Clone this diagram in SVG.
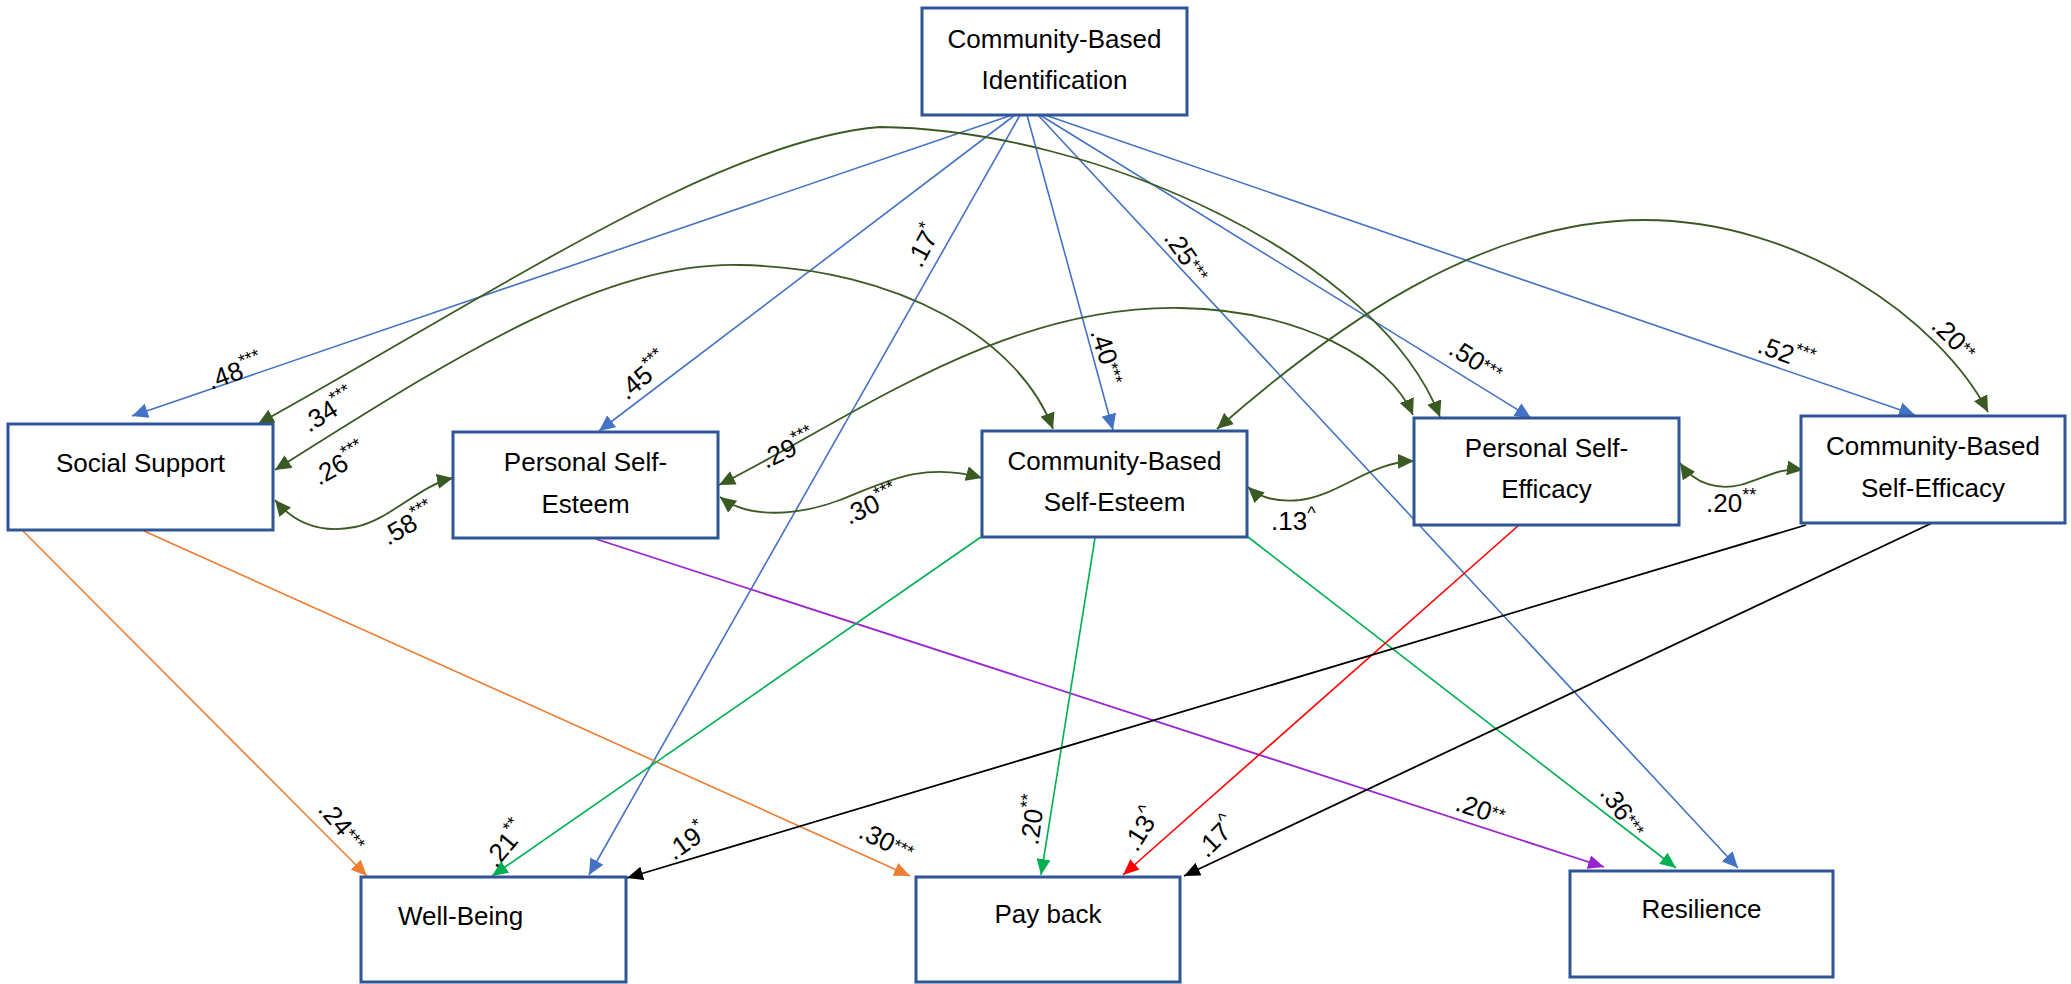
<svg xmlns="http://www.w3.org/2000/svg" width="2071" height="984" viewBox="0 0 2071 984">
  <style>
    .box { fill: #ffffff; stroke: #2F5597; stroke-width: 3; }
    .t { font-family: "Liberation Sans", Arial, sans-serif; font-size: 26px; fill: #000000; }
    .lbl { font-family: "Liberation Sans", Arial, sans-serif; font-size: 26px; fill: #000000; }
    .sup { font-size: 18px; }
    .ln { fill: none; stroke-width: 1.6; }
    .blue { stroke: #4472C4; marker-end: url(#aBlue); }
    .cov { stroke: #3A5A24; stroke-width: 1.8; fill: none; marker-start: url(#aCov); marker-end: url(#aCov); }
    .orange { stroke: #ED7D31; marker-end: url(#aOrange); }
    .purple { stroke: #9A22D2; stroke-width: 1.8; marker-end: url(#aPurple); }
    .green { stroke: #00B050; marker-end: url(#aGreen); }
    .red { stroke: #FF0000; marker-end: url(#aRed); }
    .black { stroke: #000000; stroke-width: 1.8; marker-end: url(#aBlack); }
  </style>
  <defs>
    <marker id="aBlue" viewBox="0 0 16 15" refX="16" refY="7.5" markerWidth="16" markerHeight="15" markerUnits="userSpaceOnUse" orient="auto"><path d="M0,0 L16,7.5 L0,15 z" fill="#4472C4"/></marker>
    <marker id="aCov" viewBox="0 0 16 15" refX="16" refY="7.5" markerWidth="16" markerHeight="15" markerUnits="userSpaceOnUse" orient="auto-start-reverse"><path d="M0,0 L16,7.5 L0,15 z" fill="#3A5A24"/></marker>
    <marker id="aOrange" viewBox="0 0 16 14" refX="16" refY="7" markerWidth="16" markerHeight="14" markerUnits="userSpaceOnUse" orient="auto"><path d="M0,0 L16,7 L0,14 z" fill="#ED7D31"/></marker>
    <marker id="aPurple" viewBox="0 0 16 14" refX="16" refY="7" markerWidth="16" markerHeight="14" markerUnits="userSpaceOnUse" orient="auto"><path d="M0,0 L16,7 L0,14 z" fill="#9A22D2"/></marker>
    <marker id="aGreen" viewBox="0 0 16 14" refX="16" refY="7" markerWidth="16" markerHeight="14" markerUnits="userSpaceOnUse" orient="auto"><path d="M0,0 L16,7 L0,14 z" fill="#00B050"/></marker>
    <marker id="aRed" viewBox="0 0 16 14" refX="16" refY="7" markerWidth="16" markerHeight="14" markerUnits="userSpaceOnUse" orient="auto"><path d="M0,0 L16,7 L0,14 z" fill="#FF0000"/></marker>
    <marker id="aBlack" viewBox="0 0 16 14" refX="16" refY="7" markerWidth="16" markerHeight="14" markerUnits="userSpaceOnUse" orient="auto"><path d="M0,0 L16,7 L0,14 z" fill="#000000"/></marker>
  </defs>

  <rect width="2071" height="984" fill="#ffffff"/>

  <g id="connectors">
    <!-- paths from Community-Based Identification -->
    <path class="ln blue" d="M1012,115 L132,416"/>
    <path class="ln blue" d="M1015,115 L599,431"/>
    <path class="ln blue" d="M1020,115 L589,875"/>
    <path class="ln blue" d="M1027,115 L1113,430"/>
    <path class="ln blue" d="M1038,115 L1738,868"/>
    <path class="ln blue" d="M1040,115 L1531,418"/>
    <path class="ln blue" d="M1045,115 L1915,415"/>

    <!-- covariances (double-headed) -->
    <path class="cov" d="M258,424 C500,290 720,140 880,127 C1100,130 1380,260 1440,417"/>
    <path class="cov" d="M275,470 C450,360 600,262 740,265 C900,268 1020,340 1053,429"/>
    <path class="cov" d="M719,485 C850,420 1000,305 1180,308 C1300,310 1390,360 1413,415"/>
    <path class="cov" d="M1217,429 C1330,330 1480,220 1644,220 C1800,220 1940,320 1988,412"/>
    <path class="cov" d="M275,500 C300,530 330,532 355,527 C390,520 420,485 453,478"/>
    <path class="cov" d="M720,497 C750,520 800,515 840,500 C880,485 920,460 982,478"/>
    <path class="cov" d="M1248,487 C1262,500 1280,502 1300,500 C1340,495 1370,462 1414,461"/>
    <path class="cov" d="M1680,463 C1695,485 1720,490 1740,485 C1765,478 1780,467 1803,470"/>

    <!-- paths to outcomes -->
    <path class="ln orange" d="M23,531 L367,876"/>
    <path class="ln orange" d="M144,531 L910,876"/>
    <path class="ln purple" d="M596,539 L1604,867"/>
    <path class="ln green" d="M981,537 L492,876"/>
    <path class="ln green" d="M1095,538 L1041,875"/>
    <path class="ln green" d="M1248,537 L1676,868"/>
    <path class="ln red" d="M1519,525 L1123,875"/>
    <path class="ln black" d="M1806,525 L627,878"/>
    <path class="ln black" d="M1932,523 L1184,876"/>

    <!-- coefficients -->
    <g class="lbl">
      <text transform="translate(211,390) rotate(-20)">.48<tspan class="sup" dy="-11">***</tspan></text>
      <text transform="translate(309,433) rotate(-32)">.34<tspan class="sup" dy="-11">***</tspan></text>
      <text transform="translate(319,486) rotate(-30)">.26<tspan class="sup" dy="-11">***</tspan></text>
      <text transform="translate(388,546) rotate(-30)">.58<tspan class="sup" dy="-11">***</tspan></text>
      <text transform="translate(627,401) rotate(-40)">.45<tspan class="sup" dy="-11">***</tspan></text>
      <text transform="translate(921,269) rotate(-62)">.17<tspan class="sup" dy="-11">*</tspan></text>
      <text transform="translate(1090,332) rotate(72)">.40<tspan class="sup" dy="-4">***</tspan></text>
      <text transform="translate(1163,238) rotate(55)">.25<tspan class="sup" dy="-4">***</tspan></text>
      <text transform="translate(1447,353) rotate(32)">.50<tspan class="sup" dy="-4">***</tspan></text>
      <text transform="translate(1756,352) rotate(20)">.52<tspan class="sup" dy="-11">***</tspan></text>
      <text transform="translate(1930,327) rotate(45)">.20<tspan class="sup" dy="-4">**</tspan></text>
      <text transform="translate(766,469) rotate(-25)">.29<tspan class="sup" dy="-11">***</tspan></text>
      <text transform="translate(849,525) rotate(-25)">.30<tspan class="sup" dy="-11">***</tspan></text>
      <text x="1271" y="530">.13<tspan class="sup" dy="-11">^</tspan></text>
      <text x="1706" y="512">.20<tspan class="sup" dy="-11">**</tspan></text>
      <text transform="translate(317,810) rotate(50)">.24<tspan class="sup" dy="-4">***</tspan></text>
      <text transform="translate(857,837) rotate(26)">.30<tspan class="sup" dy="-4">***</tspan></text>
      <text transform="translate(496,869) rotate(-50)">.21<tspan class="sup" dy="-11">**</tspan></text>
      <text transform="translate(1038,846) rotate(-82)">.20<tspan class="sup" dy="-11">**</tspan></text>
      <text transform="translate(674,861) rotate(-35)">.19<tspan class="sup" dy="-11">*</tspan></text>
      <text transform="translate(1137,853) rotate(-58)">.13<tspan class="sup" dy="-11">^</tspan></text>
      <text transform="translate(1207,859) rotate(-45)">.17<tspan class="sup" dy="-11">^</tspan></text>
      <text transform="translate(1454,810) rotate(18)">.20<tspan class="sup" dy="-4">**</tspan></text>
      <text transform="translate(1599,793) rotate(55)">.36<tspan class="sup" dy="-4">***</tspan></text>
    </g>
  </g>

  <g id="cb-identification">
    <rect class="box" x="922" y="8" width="265" height="107"/>
    <text class="t" x="1054.5" y="48" text-anchor="middle">Community-Based</text>
    <text class="t" x="1054.5" y="89" text-anchor="middle">Identification</text>
  </g>
  <g id="social-support">
    <rect class="box" x="8" y="424" width="265" height="106"/>
    <text class="t" x="140.5" y="472" text-anchor="middle">Social Support</text>
  </g>
  <g id="personal-self-esteem">
    <rect class="box" x="453" y="432" width="265" height="106"/>
    <text class="t" x="585.5" y="471" text-anchor="middle">Personal Self-</text>
    <text class="t" x="585.5" y="513" text-anchor="middle">Esteem</text>
  </g>
  <g id="cb-self-esteem">
    <rect class="box" x="982" y="431" width="265" height="106"/>
    <text class="t" x="1114.5" y="470" text-anchor="middle">Community-Based</text>
    <text class="t" x="1114.5" y="511" text-anchor="middle">Self-Esteem</text>
  </g>
  <g id="personal-self-efficacy">
    <rect class="box" x="1414" y="418" width="265" height="107"/>
    <text class="t" x="1546.5" y="457" text-anchor="middle">Personal Self-</text>
    <text class="t" x="1546.5" y="498" text-anchor="middle">Efficacy</text>
  </g>
  <g id="cb-self-efficacy">
    <rect class="box" x="1801" y="416" width="264" height="107"/>
    <text class="t" x="1933" y="455" text-anchor="middle">Community-Based</text>
    <text class="t" x="1933" y="497" text-anchor="middle">Self-Efficacy</text>
  </g>
  <g id="well-being">
    <rect class="box" x="361" y="877" width="265" height="105"/>
    <text class="t" x="398" y="925">Well-Being</text>
  </g>
  <g id="pay-back">
    <rect class="box" x="916" y="877" width="264" height="105"/>
    <text class="t" x="1048" y="923" text-anchor="middle">Pay back</text>
  </g>
  <g id="resilience">
    <rect class="box" x="1570" y="871" width="263" height="106"/>
    <text class="t" x="1701.5" y="918" text-anchor="middle">Resilience</text>
  </g>
</svg>
